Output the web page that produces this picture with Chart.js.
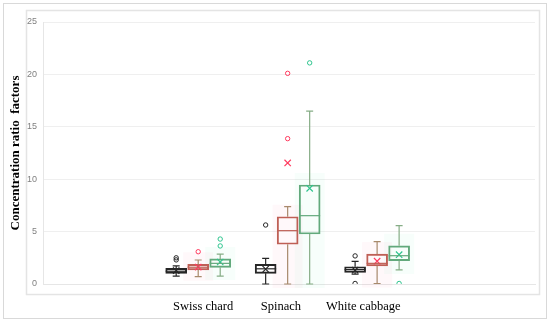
<!DOCTYPE html>
<html>
<head>
<meta charset="utf-8">
<script src="https://cdn.jsdelivr.net/npm/chart.js@4.4.1/dist/chart.umd.min.js"></script>
<style>
    html, body { margin: 0; padding: 0; background: #fff; }
    #box-chart-container { width: 550px; height: 323px; }
</style>
</head>
<body>
<div id="box-chart-container"><canvas id="box-chart" width="550" height="323"></canvas></div>
<script>
'use strict';

const categories = ['Swiss chard', 'Spinach', 'White cabbage'];
const seriesNames = ['Series 1', 'Series 2', 'Series 3'];

const lowWhisker1 = [0.75, 0, 0.95];
const q1Series1 = [1.02, 1.02, 1.11];
const median1 = [1.22, 1.45, 1.38];
const q3Series1 = [1.5, 1.88, 1.65];
const highWhisker1 = [1.72, 2.45, 2.15];
const mean1 = [1.28, 1.42, 1.32];
const outliers1 = [[2.3, 2.5], [5.63], [2.68, 0.05]];

const lowWhisker2 = [0.7, 0, 0.05];
const q1Series2 = [1.34, 3.79, 1.72];
const median2 = [1.6, 5.09, 1.97];
const q3Series2 = [1.88, 6.42, 2.86];
const highWhisker2 = [2.29, 7.38, 4.04];
const mean2 = [1.62, 11.55, 2.18];
const outliers2 = [[3.08], [13.87, 20.1], []];

const lowWhisker3 = [0.76, 0, 1.34];
const q1Series3 = [1.59, 4.77, 2.22];
const median3 = [1.97, 6.52, 2.7];
const q3Series3 = [2.39, 9.45, 3.65];
const highWhisker3 = [2.86, 16.5, 5.57];
const mean3 = [2.1, 9.13, 2.8];
const outliers3 = [[3.63, 4.29], [21.1], [0.05]];

const yTicks = [0, 5, 10, 15, 20, 25];

// x positions on the linear axis (one unit = one category slot)
const groupPos = [1.735, 2.735, 3.735];
const seriesOffset = [-0.246, 0, 0.246];
const labelPos = [1.79, 2.66, 3.58];

const boxes = [
    {low: lowWhisker1, q1: q1Series1, med: median1, q3: q3Series1, high: highWhisker1, mean: mean1, out: outliers1,
        box: '#262626', whisker: '#262626', mark: '#262626', glow: null},
    {low: lowWhisker2, q1: q1Series2, med: median2, q3: q3Series2, high: highWhisker2, mean: mean2, out: outliers2,
        box: '#bf5f55', whisker: '#a88a6c', mark: '#ff3b5f', glow: 'rgba(255, 70, 120, 0.035)'},
    {low: lowWhisker3, q1: q1Series3, med: median3, q3: q3Series3, high: highWhisker3, mean: mean3, out: outliers3,
        box: '#62a97c', whisker: '#86ad86', mark: '#2ec48e', glow: 'rgba(60, 230, 170, 0.045)'},
];

window.xOf = function (s, g) {
    return groupPos[g] + seriesOffset[s];
};

window.buildDatasets = function () {
    let sets = [];
    boxes.forEach(function (b, s) {
        sets.push({
            type: 'bar',
            label: seriesNames[s],
            data: categories.map((c, g) => ({x: xOf(s, g), y: [b.q1[g], b.q3[g]]})),
            backgroundColor: 'rgba(255,255,255,0)',
            borderColor: b.box,
            borderWidth: 1.3,
            borderSkipped: false,
            barThickness: 21,
            grouped: false,
            order: 3,
        });
    });
    boxes.forEach(function (b, s) {
        let pts = [];
        categories.forEach(function (c, g) {
            b.out[g].forEach(v => pts.push({x: xOf(s, g), y: v}));
        });
        sets.push({
            type: 'line',
            label: seriesNames[s] + ' outliers',
            data: pts,
            showLine: false,
            pointStyle: 'circle',
            pointRadius: 2.2,
            pointBorderWidth: 1,
            pointBorderColor: b.mark,
            pointBackgroundColor: 'rgba(255,255,255,0)',
            order: 1,
        });
        sets.push({
            type: 'line',
            label: seriesNames[s] + ' mean',
            data: categories.map((c, g) => ({x: xOf(s, g), y: b.mean[g]})),
            showLine: false,
            pointStyle: 'crossRot',
            pointRadius: 4.5,
            pointBorderWidth: 1.2,
            pointBorderColor: b.mark,
            order: 1,
        });
    });
    return sets;
};

const framePlugin = {
    id: 'frames',
    beforeDraw: function (chart) {
        let ctx = chart.ctx;
        ctx.save();
        ctx.strokeStyle = '#d9d9d9';
        ctx.lineWidth = 1;
        ctx.strokeRect(3.5, 3.5, 543, 315);
        ctx.strokeStyle = '#e4e4e4';
        ctx.lineWidth = 1.5;
        ctx.strokeRect(26.5, 10.5, 513, 284);
        ctx.restore();
    },
};

const whiskerPlugin = {
    id: 'whiskers',
    beforeDatasetsDraw: function (chart) {
        let ctx = chart.ctx, x = chart.scales.x, y = chart.scales.y;
        ctx.save();
        boxes.forEach(function (b, s) {
            if (!b.glow) return;
            categories.forEach(function (c, g) {
                let px = x.getPixelForValue(xOf(s, g));
                let top = y.getPixelForValue(b.q3[g]) - 12;
                let bottom = y.getPixelForValue(b.low[g]) + 4;
                ctx.fillStyle = b.glow;
                ctx.fillRect(px - 15, top, 30, bottom - top);
            });
        });
        ctx.restore();
    },
    afterDatasetsDraw: function (chart) {
        let ctx = chart.ctx, x = chart.scales.x, y = chart.scales.y;
        ctx.save();
        ctx.lineWidth = 1.2;
        boxes.forEach(function (b, s) {
            categories.forEach(function (c, g) {
                let px = x.getPixelForValue(xOf(s, g));
                ctx.strokeStyle = b.box;
                ctx.beginPath();
                ctx.moveTo(px - 10.5, y.getPixelForValue(b.med[g]));
                ctx.lineTo(px + 10.5, y.getPixelForValue(b.med[g]));
                ctx.stroke();
                ctx.strokeStyle = b.whisker;
                [[b.q3[g], b.high[g]], [b.q1[g], b.low[g]]].forEach(function (w) {
                    let y0 = y.getPixelForValue(w[0]), y1 = y.getPixelForValue(w[1]);
                    ctx.beginPath();
                    ctx.moveTo(px, y0);
                    ctx.lineTo(px, y1);
                    ctx.moveTo(px - 3.5, y1);
                    ctx.lineTo(px + 3.5, y1);
                    ctx.stroke();
                });
            });
        });
        ctx.restore();
    },
};

window.drawBoxChart = function () {
    let ctx = document.getElementById('box-chart').getContext('2d');
    window.boxChart = new Chart(ctx, {
        type: 'bar',
        data: {datasets: buildDatasets()},
        plugins: [framePlugin, whiskerPlugin],
        options: {
            responsive: false,
            animation: false,
            layout: {padding: {top: 22, right: 15, bottom: 0, left: 0}},
            plugins: {
                legend: {display: false},
                tooltip: {enabled: false},
            },
            scales: {
                x: {
                    type: 'linear',
                    min: 0,
                    max: 5.5,
                    offset: false,
                    grid: {display: false, drawTicks: false},
                    border: {display: true, color: '#e6e6e6'},
                    afterBuildTicks: function (scale) {
                        scale.ticks = labelPos.map(v => ({value: v}));
                    },
                    afterFit: function (scale) {
                        scale.height = 39;
                    },
                    ticks: {
                        autoSkip: false,
                        maxRotation: 0,
                        padding: 15,
                        color: '#000',
                        font: {family: 'Liberation Serif', size: 12.5},
                        callback: (v, i) => categories[i],
                    },
                },
                y: {
                    min: 0,
                    max: 25,
                    afterBuildTicks: function (scale) {
                        scale.ticks = yTicks.map(v => ({value: v}));
                    },
                    afterFit: function (scale) {
                        scale.width = 43;
                    },
                    grid: {color: '#efefef', drawTicks: false},
                    border: {display: true, color: '#e6e6e6'},
                    ticks: {
                        padding: 6,
                        color: '#808080',
                        font: {family: 'Liberation Sans', size: 9},
                    },
                    title: {
                        display: true,
                        text: 'Concentration ratio  factors',
                        color: '#000',
                        padding: {top: 8, bottom: 0},
                        font: {family: 'Liberation Serif', size: 13, weight: 'bold'},
                    },
                },
            },
        },
    });
};

drawBoxChart();
</script>
</body>
</html>
